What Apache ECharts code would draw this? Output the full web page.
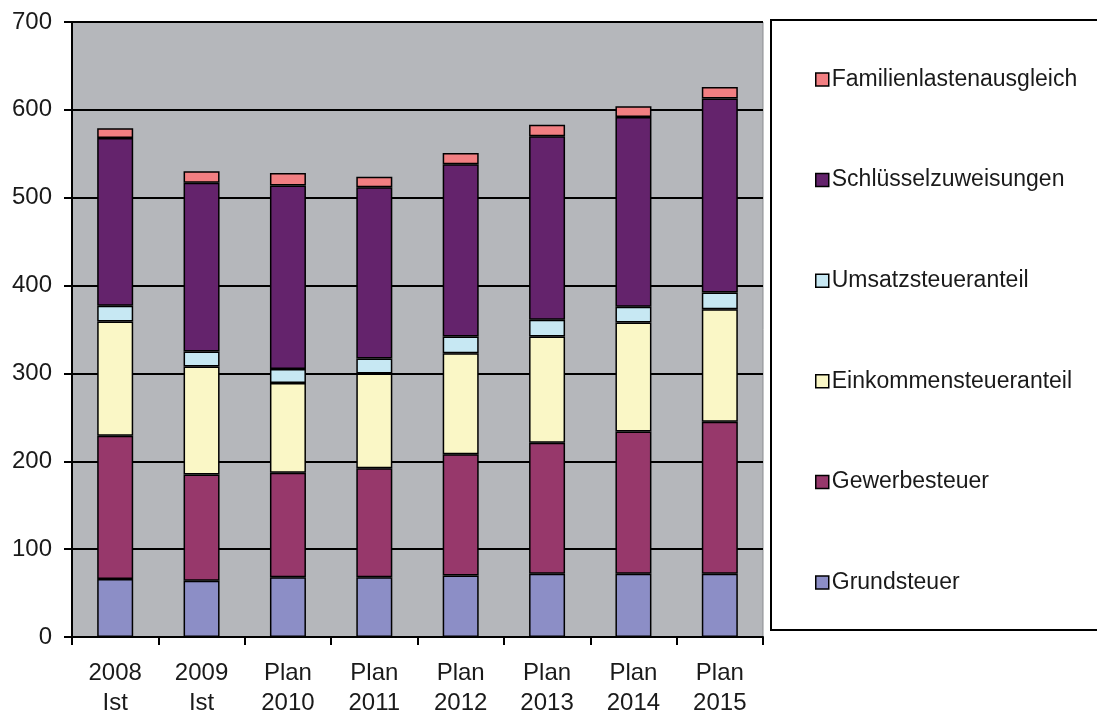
<!DOCTYPE html>
<html>
<head>
<meta charset="utf-8">
<script src="https://cdn.jsdelivr.net/npm/echarts@6/dist/echarts.min.js"></script>
<style>
html,body{margin:0;padding:0;background:#fff;}
#chart{width:1097px;height:714px;}
</style>
</head>
<body>
<div id="chart"></div>
<script>
const categories = ['2008\nIst', '2009\nIst', 'Plan\n2010', 'Plan\n2011', 'Plan\n2012', 'Plan\n2013', 'Plan\n2014', 'Plan\n2015'];
const grundsteuer = [66, 64, 68, 68, 70, 72, 72, 72];
const gewerbesteuer = [163, 121, 119, 124, 138, 149, 162, 173];
const einkommensteueranteil = [130, 123, 102, 108, 115, 121, 124, 128];
const umsatzsteueranteil = [18, 17, 16, 17, 19, 19, 18, 19];
const schluesselzuweisungen = [191, 192, 209, 195, 196, 209, 216, 221];
const familienlastenausgleich = [11, 13, 14, 12, 13, 13, 12, 13];
const yTicks = [0, 100, 200, 300, 400, 500, 600, 700];

const seriesDefs = [
  ['Grundsteuer', grundsteuer, '#8C8EC6'],
  ['Gewerbesteuer', gewerbesteuer, '#97386B'],
  ['Einkommensteueranteil', einkommensteueranteil, '#FAF7C6'],
  ['Umsatzsteueranteil', umsatzsteueranteil, '#C7E8F3'],
  ['Schlüsselzuweisungen', schluesselzuweisungen, '#64236C'],
  ['Familienlastenausgleich', familienlastenausgleich, '#F27F82']
];

const chart = echarts.init(document.getElementById('chart'));
chart.setOption({
  animation: false,
  backgroundColor: '#ffffff',
  textStyle: { fontFamily: 'Liberation Sans, Arial, sans-serif' },
  grid: {
    left: 72, right: 334, top: 22, bottom: 77,
    outerBoundsMode: 'none', containLabel: false,
    show: true, backgroundColor: '#B5B7BB', borderColor: '#8a8c90', borderWidth: 1
  },
  legend: {
    orient: 'vertical',
    left: 810, top: 63,
    itemWidth: 13, itemHeight: 13,
    itemGap: 77.6,
    icon: 'rect',
    itemStyle: { borderColor: '#000', borderWidth: 1.5 },
    textStyle: { fontSize: 23, color: '#1a1a1a', fontFamily: 'Liberation Sans, Arial, sans-serif', padding: [0,0,0,-2] },
    data: seriesDefs.map(d => d[0]).reverse()
  },
  graphic: [{
    type: 'rect', shape: { x: 771, y: 20, width: 340, height: 610 },
    style: { fill: 'none', stroke: '#000', lineWidth: 2 }, z: 100
  }],
  xAxis: {
    type: 'category',
    data: categories,
    axisLine: { lineStyle: { color: '#000', width: 2 } },
    axisTick: { show: true, alignWithLabel: false, length: 8, lineStyle: { color: '#000', width: 2 } },
    axisLabel: { fontSize: 24, color: '#1a1a1a', lineHeight: 30, margin: 21, interval: 0 }
  },
  yAxis: {
    type: 'value',
    min: yTicks[0], max: yTicks[yTicks.length - 1], interval: 100,
    axisLine: { show: true, lineStyle: { color: '#000', width: 2 } },
    axisTick: { show: true, length: 8, lineStyle: { color: '#000', width: 2 } },
    axisLabel: { fontSize: 24, color: '#1a1a1a', margin: 20 },
    splitLine: { show: true, lineStyle: { color: '#000', width: 2 } }
  },
  series: seriesDefs.map(d => ({
    name: d[0],
    type: 'bar',
    stack: 'total',
    barWidth: 36,
    data: d[1],
    itemStyle: { color: d[2], borderColor: '#000', borderWidth: 1.5 }
  }))
});
</script>
</body>
</html>
